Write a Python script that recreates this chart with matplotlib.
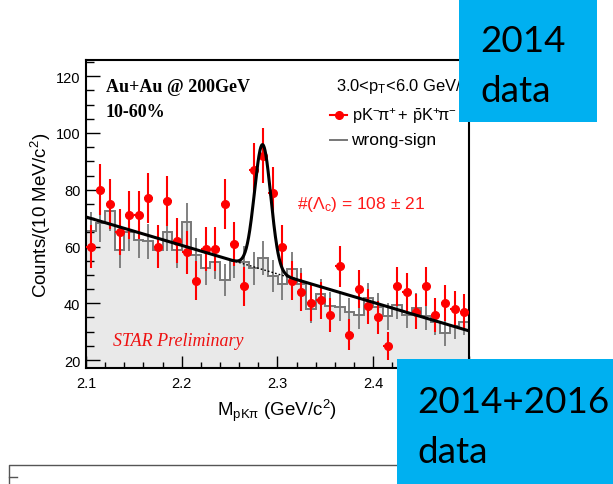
import numpy as np
import matplotlib
matplotlib.use("Agg")
import matplotlib.pyplot as plt
from matplotlib.patches import Rectangle
from matplotlib.lines import Line2D

plt.rcParams['font.family'] = ['Liberation Sans', 'DejaVu Sans']
plt.rcParams['mathtext.fontset'] = 'custom'
plt.rcParams['mathtext.rm'] = 'Liberation Sans'
plt.rcParams['mathtext.it'] = 'Liberation Sans:italic'
plt.rcParams['mathtext.bf'] = 'Liberation Sans:bold'

# ---------------- data ----------------
mass_lo, mass_hi, bin_w = 2.10, 2.50, 0.01
right_sign = [60, 80, 75, 65, 71, 71, 77, 60, 76, 62,
              58, 48, 59, 59, 75, 61, 46, 87, 92, 79,
              60, 48, 44, 40, 41, 36, 53, 29, 45, 39,
              35, 25, 46, 44, 37, 46, 36, 40, 38, 37]
right_sign_err = [7.7, 8.9, 8.7, 8.1, 8.4, 8.4, 8.8, 7.7, 8.7, 7.9,
                  7.6, 6.9, 7.7, 7.7, 8.7, 7.8, 6.8, 9.3, 9.6, 8.9,
                  7.7, 6.9, 6.6, 6.3, 6.4, 6.0, 7.3, 5.4, 6.7, 6.2,
                  5.9, 5.0, 6.8, 6.6, 6.1, 6.8, 6.0, 6.3, 6.2, 6.1]
wrong_sign = [65.6, 68.4, 72.4, 58.6, 65.0, 62.4, 61.8, 58.6, 65.0, 58.6,
              68.6, 57.0, 52.3, 54.4, 48.3, 55.0, 54.4, 52.3, 56.0, 49.5,
              46.8, 52.1, 46.8, 38.0, 43.3, 38.9, 38.6, 36.8, 35.9, 41.8,
              38.6, 35.4, 39.4, 36.0, 38.5, 35.5, 33.5, 29.5, 32.0, 33.5]
wrong_sign_err = [6.5, 6.7, 6.9, 6.2, 6.5, 6.4, 6.3, 6.2, 6.5, 6.2,
                  6.7, 6.1, 5.8, 5.9, 5.6, 6.0, 5.9, 5.8, 6.0, 5.6,
                  5.5, 5.8, 5.5, 5.0, 5.3, 5.0, 5.0, 4.9, 4.8, 5.2,
                  5.0, 4.8, 5.0, 4.8, 5.0, 4.8, 4.7, 4.4, 4.6, 4.7]
# fit: linear background + gaussian
bg_at_lo = 70.4
bg_slope = -100.3
gaus_amp = 44.0
gaus_mean = 2.2845
gaus_sigma = 0.0085
bg_dotted_range = (2.256, 2.312)

xticks = [2.1, 2.2, 2.3, 2.4, 2.5]
xticklabels = ["2.1", "2.2", "2.3", "2.4", ""]
yticks = [20, 40, 60, 80, 100, 120]

# ---------------- figure ----------------
W, H = 613, 485
fig = plt.figure(figsize=(W / 100, H / 100), dpi=100)

def fx(px):
    return px / W

def fy(py):
    return 1 - py / H

ax = fig.add_axes([fx(86), fy(369), (469 - 86) / W, (369 - 61) / H])

nb = len(right_sign)
edges = mass_lo + bin_w * np.arange(nb + 1)
centers = 0.5 * (edges[:-1] + edges[1:])

gray = '#777777'
ax.stairs(wrong_sign, edges, fill=True, facecolor='#e9e9e9', edgecolor='none',
          lw=0, baseline=0, zorder=1)
ax.stairs(wrong_sign, edges, color=gray, lw=1.4, zorder=2)
ax.errorbar(centers, wrong_sign, yerr=wrong_sign_err, fmt='none', ecolor=gray,
            elinewidth=1.3, capsize=0, zorder=2)
ax.errorbar(centers, right_sign, yerr=right_sign_err, xerr=0.0045, fmt='o',
            color='#ff0000', ms=5.5, elinewidth=1.5, capsize=0, zorder=4)

x = np.linspace(mass_lo, mass_hi, 1000)
bg = bg_at_lo + bg_slope * (x - mass_lo)
ax.plot(x, bg + gaus_amp * np.exp(-0.5 * ((x - gaus_mean) / gaus_sigma) ** 2),
        color='black', lw=2.2, zorder=5)
m = (x >= bg_dotted_range[0]) & (x <= bg_dotted_range[1])
ax.plot(x[m], bg[m], color='black', lw=1.0, ls=(0, (1.2, 1.5)), zorder=5)

ax.set_xlim(mass_lo, mass_hi)
ax.set_ylim(17.2, 125.7)
ax.set_xticks(xticks)
ax.set_xticklabels(xticklabels)
ax.set_xticks(np.arange(2.12, 2.5, 0.02), minor=True)
ax.set_yticks(yticks)
ax.set_yticks(np.arange(20, 126, 5), minor=True)
ax.tick_params(which='both', direction='in', top=False, right=False,
               labelsize=10.5, width=1.0, color='black')
ax.tick_params(axis='y', which='major', length=10, pad=4)
ax.tick_params(axis='y', which='minor', length=6)
ax.tick_params(axis='x', which='major', length=9, pad=6)
ax.tick_params(axis='x', which='minor', length=4.5)
for s in ax.spines.values():
    s.set_linewidth(1.5)
    s.set_color('black')

ax.set_ylabel('Counts/(10 MeV/c$^2$)', fontsize=13.5, labelpad=2)
fig.text(fx(277), fy(411), r'M$_{\mathrm{pK\pi}}$ (GeV/c$^2$)', fontsize=13.5,
         ha='center', va='center')

# annotations
fig.text(fx(106), fy(92.5), 'Au+Au @ 200GeV', family='Liberation Serif',
         weight='bold', fontsize=13, va='baseline')
fig.text(fx(106), fy(117), '10-60%', family='Liberation Serif',
         weight='bold', fontsize=13, va='baseline')
fig.text(fx(335.5), fy(91.5), r'3.0<p$_{\mathrm{T}}$<6.0 GeV/c', fontsize=11.9,
         va='baseline')
fig.text(fx(113), fy(346.5), 'STAR Preliminary', family='Liberation Serif',
         style='italic', color='#ee1111', fontsize=13, va='baseline')
fig.text(fx(297), fy(205), r'#($\Lambda_{\mathrm{c}}$) = 108 $\pm$ 21',
         color='#ff1a1a', fontsize=12.5, va='center')

# legend
fig.add_artist(Line2D([fx(330), fx(347)], [fy(116), fy(116)], color='#ff0000', lw=1.5))
fig.add_artist(Line2D([fx(338.5)], [fy(116)], color='#ff0000', marker='o', ms=5.5, lw=0))
fig.text(fx(351.5), fy(116),
         r'pK$^{\mathrm{-}}\!\mathrm{\pi}^{\mathrm{+}}\!$ + $\bar{\mathrm{p}}$K$^{\mathrm{+}}\!\mathrm{\pi}^{\mathrm{-}}$',
         fontsize=11.8, va='center')
fig.add_artist(Line2D([fx(330), fx(347)], [fy(140.5), fy(140.5)], color=gray, lw=1.4))
fig.text(fx(351.5), fy(140.5), 'wrong-sign', fontsize=12.5, va='center')

# lower (cut-off) frame
fig.add_artist(Line2D([fx(9), fx(9), fx(557), fx(557)],
                      [fy(486), fy(466), fy(466), fy(486)], color='#555555', lw=1.0))
fig.add_artist(Line2D([fx(9), fx(17)], [fy(478), fy(478)], color='#555555', lw=1.0))

# blue overlay boxes
blue = '#00b0f0'
fig.add_artist(Rectangle((fx(459), fy(123)), (597 - 459) / W, 123 / H,
                         facecolor=blue, edgecolor='none', zorder=10))
fig.add_artist(Rectangle((fx(397), fy(485)), (613 - 397) / W, (485 - 360) / H,
                         facecolor=blue, edgecolor='none', zorder=10))
box_font = dict(family='Lato', fontsize=26.5, color='black', va='baseline', zorder=11)
fig.text(fx(480), fy(52), '2014', **box_font)
fig.text(fx(480), fy(102), 'data', **box_font)
fig.text(fx(417), fy(413), '2014+2016', **box_font)
fig.text(fx(417), fy(463), 'data', **box_font)

fig.savefig('out.png', dpi=100)
